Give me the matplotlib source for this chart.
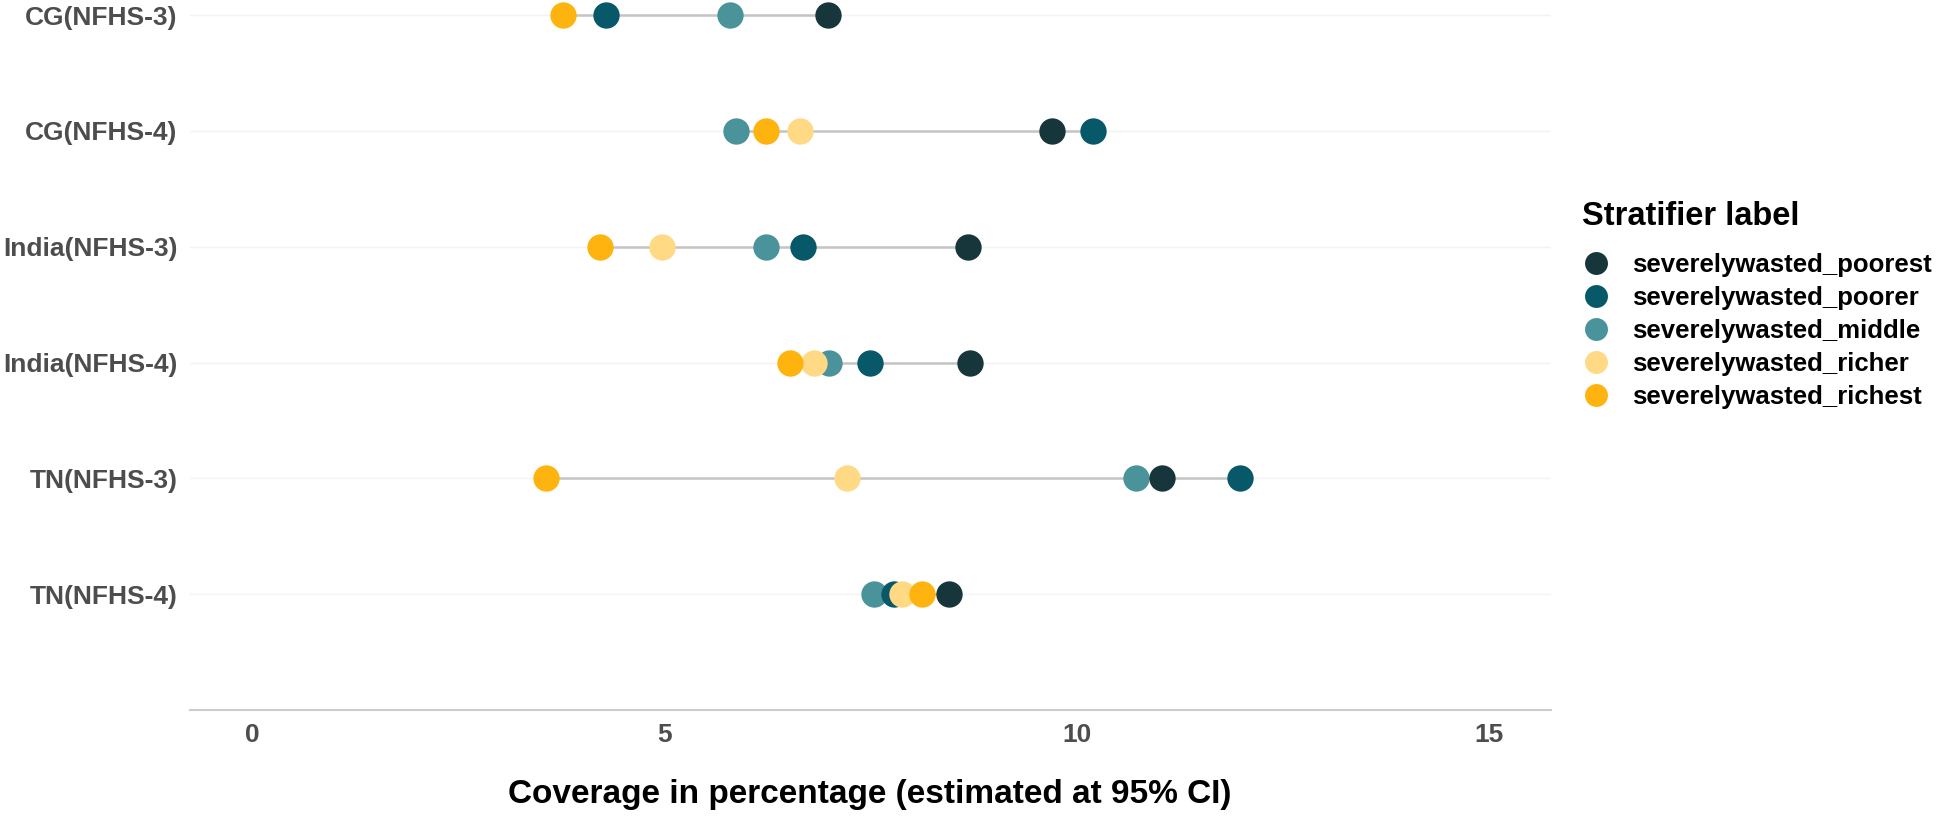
import numpy as np
import matplotlib.pyplot as plt
from matplotlib.lines import Line2D

plt.rcParams['font.family'] = ['Liberation Sans', 'DejaVu Sans']

# rows, top to bottom
regions = ['CG(NFHS-3)', 'CG(NFHS-4)', 'India(NFHS-3)', 'India(NFHS-4)', 'TN(NFHS-3)', 'TN(NFHS-4)']

# coverage values (%) per wealth group, same row order as regions
poorest = [6.98, 9.70, 8.68, 8.71, 11.04, 8.45]
poorer = [4.29, 10.20, 6.68, 7.49, 11.98, 7.78]
middle = [5.80, 5.87, 6.23, 7.00, 10.72, 7.54]
richer = [np.nan, 6.65, 4.97, 6.82, 7.21, 7.88]
richest = [3.77, 6.23, 4.22, 6.53, 3.57, 8.12]

labels = ['severelywasted_poorest', 'severelywasted_poorer', 'severelywasted_middle',
          'severelywasted_richer', 'severelywasted_richest']
colors = ['#17363b', '#07596a', '#4a939b', '#ffd983', '#ffb30f']
groups = [poorest, poorer, middle, richer, richest]

W, H = 1943, 818
fig = plt.figure(figsize=(W / 100, H / 100), dpi=100)
ax = fig.add_axes([190 / W, (H - 710) / H, (1551 - 190) / W, 710 / H])

ypos = np.arange(len(regions), 0, -1)  # 6 .. 1

# grey span line for each row
data = np.array(groups, dtype=float)
lo = np.nanmin(data, axis=0)
hi = np.nanmax(data, axis=0)
ax.hlines(ypos, lo, hi, color='#c4c4c4', lw=1.8, zorder=2)

# points, drawn in alphabetical order of the groups (middle, poorer, poorest, richer, richest)
draw_order = [2, 1, 0, 3, 4]
for i in draw_order:
    ax.scatter(groups[i], ypos, s=360, color=colors[i], zorder=3, linewidths=0)

ax.set_xlim(-0.75, 15.75)
ax.set_ylim(0, 6.13)
ax.set_xticks([0, 5, 10, 15])
ax.set_yticks(ypos)
ax.set_yticklabels(regions)
for lab in ax.get_yticklabels() + ax.get_xticklabels():
    lab.set_fontweight('bold')
    lab.set_color('#4d4d4d')
    lab.set_fontsize(19)
ax.tick_params(axis='both', length=0)
ax.tick_params(axis='y', pad=9)
ax.tick_params(axis='x', pad=9)

for s in ['top', 'right', 'left']:
    ax.spines[s].set_visible(False)
ax.spines['bottom'].set_color('#cccccc')
ax.spines['bottom'].set_linewidth(1.5)
ax.grid(axis='y', color='#f3f3f3', lw=1.0, zorder=0)
ax.grid(axis='x', visible=False)
ax.set_axisbelow(True)

fig.text(870 / W, (H - 803) / H, 'Coverage in percentage (estimated at 95% CI)',
         ha='center', va='baseline', fontsize=24, fontweight='bold', color='black')

# legend title as its own text, entries below it
fig.text(1582 / W, (H - 216.5) / H, 'Stratifier label', ha='left', va='center',
         fontsize=23.5, fontweight='bold', color='black')
handles = [Line2D([], [], ls='none', marker='o', markersize=16.5, color=c, markeredgewidth=0)
           for c in colors]
leg = fig.legend(handles, labels, loc='upper left',
                 bbox_to_anchor=(1570 / W, (H - 243) / H), frameon=False,
                 prop={'size': 18.5, 'weight': 'bold'}, labelspacing=0.35,
                 handletextpad=0.8, handlelength=1.2, borderaxespad=0)

fig.savefig('out.png', dpi=100)
